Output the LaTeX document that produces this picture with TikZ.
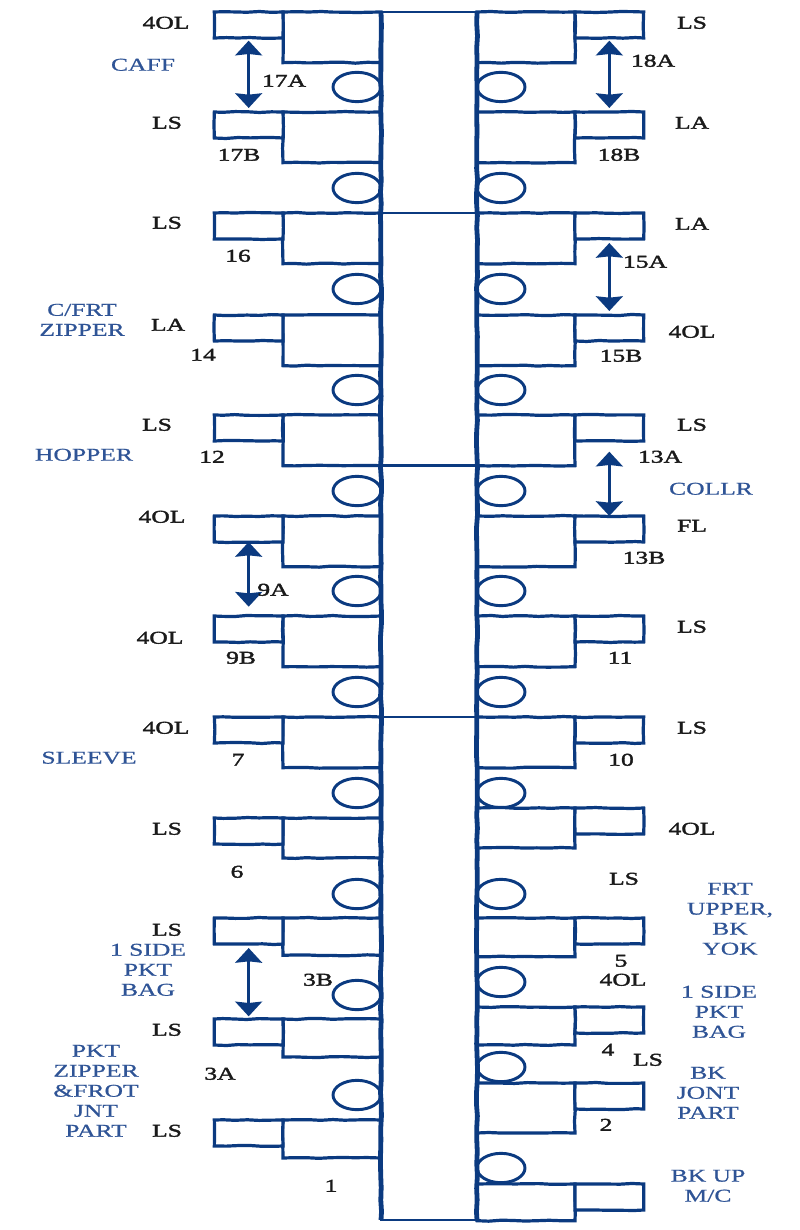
\documentclass[tikz,border=0pt]{standalone}
\usepackage{fontspec}
\setmainfont[FakeStretch=1.42,FakeBold=0.8]{Liberation Serif}
\newfontfamily\machinefont[FakeStretch=1.42,FakeBold=2]{Liberation Serif}
\usepackage{xcolor}
\usetikzlibrary{arrows.meta,shapes.geometric,decorations.pathmorphing}
\definecolor{seam}{HTML}{0B3A80}
\definecolor{opname}{HTML}{2F5496}
\definecolor{mcname}{HTML}{1A1A1A}
\tikzset{
  rough/.style={
    decorate, decoration={random steps, segment length=9pt, amplitude=0.4pt}
  },
  bigbox/.style={
    rectangle, draw=seam, line width=2.4pt, rough, fill=white,
    minimum width=73.5pt, minimum height=#1,
    inner sep=0pt, outer sep=0pt, anchor=north west
  },
  bigbox/.default=38pt,
  tabbox/.style={
    rectangle, draw=seam, line width=2.4pt, rough, fill=white,
    minimum width=51.5pt, minimum height=19.5pt,
    inner sep=0pt, outer sep=0pt
  },
  spinebox/.style={
    rectangle, draw=seam, line width=1.9pt,
    minimum width=72pt, minimum height=906pt,
    inner sep=0pt, outer sep=0pt, anchor=north west
  },
  spineline/.style={draw=seam, line width=3.6pt, rough},
  holeleft/.style={
    ellipse, draw=seam, line width=2.2pt, fill=white,
    minimum width=36pt, minimum height=22pt,
    inner sep=0pt, outer sep=0pt, anchor=east
  },
  holeright/.style={holeleft, anchor=west},
  divider/.style={draw=seam, line width=1.9pt},
  dataarrow/.style={
    {Stealth[length=11pt,width=20pt,inset=1pt]}-{Stealth[length=11pt,width=20pt,inset=1pt]},
    line width=2.5pt, color=seam
  },
  machine/.style={
    font=\fontsize{13.5}{15}\machinefont, color=mcname, inner sep=0pt, yshift=-0.6pt
  },
  operation/.style={
    font=\fontsize{13.5}{15}\selectfont, color=opname, align=center, inner sep=0pt, yshift=-0.6pt
  },
}
\begin{document}
\begin{tikzpicture}[x=0.75pt,y=-0.75pt]
  \useasboundingbox (0,0) rectangle (799,1230);
  % holes, left side
  \node[holeleft] at (381,87) (hl1) {};
  \node[holeleft] at (381,188) (hl2) {};
  \node[holeleft] at (381,289) (hl3) {};
  \node[holeleft] at (381,390) (hl4) {};
  \node[holeleft] at (381,491) (hl5) {};
  \node[holeleft] at (381,591) (hl6) {};
  \node[holeleft] at (381,692) (hl7) {};
  \node[holeleft] at (381,793) (hl8) {};
  \node[holeleft] at (381,894) (hl9) {};
  \node[holeleft] at (381,995) (hl10) {};
  \node[holeleft] at (381,1095) (hl11) {};
  % holes, right side
  \node[holeright] at (477,87) (hr1) {};
  \node[holeright] at (477,188) (hr2) {};
  \node[holeright] at (477,289) (hr3) {};
  \node[holeright] at (477,390) (hr4) {};
  \node[holeright] at (477,491) (hr5) {};
  \node[holeright] at (477,591) (hr6) {};
  \node[holeright] at (477,692) (hr7) {};
  \node[holeright] at (477,793) (hr8) {};
  \node[holeright] at (477,894) (hr9) {};
  \node[holeright] at (477,982) (hr10) {};
  \node[holeright] at (477,1067) (hr11) {};
  \node[holeright] at (477,1168) (hr12) {};
  % left stations
  \node[bigbox] at (283,12) (lb17a) {};
  \node[tabbox, anchor=north east] at (lb17a.north west) (lt17a) {};
  \node[bigbox] at (283,112) (lb17b) {};
  \node[tabbox, anchor=north east] at (lb17b.north west) (lt17b) {};
  \node[bigbox] at (283,213) (lb16) {};
  \node[tabbox, anchor=north east] at (lb16.north west) (lt16) {};
  \node[bigbox] at (283,315) (lb14) {};
  \node[tabbox, anchor=north east] at (lb14.north west) (lt14) {};
  \node[bigbox] at (283,415) (lb12) {};
  \node[tabbox, anchor=north east] at (lb12.north west) (lt12) {};
  \node[bigbox] at (283,516) (lb9a) {};
  \node[tabbox, anchor=north east] at (lb9a.north west) (lt9a) {};
  \node[bigbox] at (283,616) (lb9b) {};
  \node[tabbox, anchor=north east] at (lb9b.north west) (lt9b) {};
  \node[bigbox] at (283,717) (lb7) {};
  \node[tabbox, anchor=north east] at (lb7.north west) (lt7) {};
  \node[bigbox=30pt] at (283,818) (lb6) {};
  \node[tabbox, anchor=north east] at (lb6.north west) (lt6) {};
  \node[bigbox=28pt] at (283,918) (lb3b) {};
  \node[tabbox, anchor=north east] at (lb3b.north west) (lt3b) {};
  \node[bigbox=28.5pt] at (283,1019) (lb3a) {};
  \node[tabbox, anchor=north east] at (lb3a.north west) (lt3a) {};
  \node[bigbox=28.5pt] at (283,1120) (lb1) {};
  \node[tabbox, anchor=north east] at (lb1.north west) (lt1) {};
  % right stations
  \node[bigbox] at (477,12) (rb18a) {};
  \node[tabbox, anchor=north west] at (rb18a.north east) (rt18a) {};
  \node[bigbox] at (477,112) (rb18b) {};
  \node[tabbox, anchor=north west] at (rb18b.north east) (rt18b) {};
  \node[bigbox] at (477,213) (rb15a) {};
  \node[tabbox, anchor=north west] at (rb15a.north east) (rt15a) {};
  \node[bigbox] at (477,315) (rb15b) {};
  \node[tabbox, anchor=north west] at (rb15b.north east) (rt15b) {};
  \node[bigbox] at (477,415) (rb13a) {};
  \node[tabbox, anchor=north west] at (rb13a.north east) (rt13a) {};
  \node[bigbox] at (477,516) (rb13b) {};
  \node[tabbox, anchor=north west] at (rb13b.north east) (rt13b) {};
  \node[bigbox] at (477,616) (rb11) {};
  \node[tabbox, anchor=north west] at (rb11.north east) (rt11) {};
  \node[bigbox] at (477,717) (rb10) {};
  \node[tabbox, anchor=north west] at (rb10.north east) (rt10) {};
  \node[bigbox=30pt] at (477,808) (rb8) {};
  \node[tabbox, anchor=north west] at (rb8.north east) (rt8) {};
  \node[bigbox=29pt] at (477,918) (rb5) {};
  \node[tabbox, anchor=north west] at (rb5.north east) (rt5) {};
  \node[bigbox=28.5pt] at (477,1007) (rb4) {};
  \node[tabbox, anchor=north west] at (rb4.north east) (rt4) {};
  \node[bigbox=37.5pt] at (477,1083) (rb2) {};
  \node[tabbox, anchor=north west] at (rb2.north east) (rt2) {};
  \node[bigbox=27.5pt] at (477,1184) (rb0) {};
  \node[tabbox, anchor=north west] at (rb0.north east) (rt0) {};
  % centre column
  \node[spinebox] at (381,12) (spine) {};
  \draw[spineline] (spine.north west) -- (spine.south west);
  \draw[spineline] (spine.north east) -- (spine.south east);
  \draw[divider] (lb16.north east) -- (rb15a.north west);
  \draw[divider] (lb12.south east) -- (rb13a.south west);
  \draw[divider] (lb7.north east) -- (rb10.north west);
  % arrows
  \draw[dataarrow, shorten <=2pt, shorten >=3pt] (lt17a.south) -- (lt17b.north);
  \draw[dataarrow, shorten <=2pt, shorten >=3pt] (rt18a.south) -- (rt18b.north);
  \draw[dataarrow, shorten <=3pt, shorten >=3pt] (rt15a.south) -- (rt15b.north);
  \draw[dataarrow, shorten <=8pt] (rt13a.south) -- (rt13b.north);
  \draw[dataarrow, shorten >=7pt] (lt9a.south) -- (lt9b.north);
  \draw[dataarrow, shorten <=3pt, shorten >=2pt] (lt3b.south) -- (lt3a.north);
  % machine names and operation numbers, left
  \node[machine] at (166,22) (m1) {4OL};
  \node[machine] at (167,122) (m2) {LS};
  \node[machine] at (167,222) (m3) {LS};
  \node[machine] at (168,324) (m4) {LA};
  \node[machine] at (157,424) (m5) {LS};
  \node[machine] at (162,516) (m6) {4OL};
  \node[machine] at (160,637) (m7) {4OL};
  \node[machine] at (166,727) (m8) {4OL};
  \node[machine] at (167,828) (m9) {LS};
  \node[machine] at (167,929) (m10) {LS};
  \node[machine] at (167,1029) (m11) {LS};
  \node[machine] at (167,1130) (m12) {LS};
  \node[machine] at (284,80) (n17a) {17A};
  \node[machine] at (239,154) (n17b) {17B};
  \node[machine] at (238,255) (n16) {16};
  \node[machine] at (203,354) (n14) {14};
  \node[machine] at (212,456) (n12) {12};
  \node[machine] at (273,589) (n9a) {9A};
  \node[machine] at (241,657) (n9b) {9B};
  \node[machine] at (238,759) (n7) {7};
  \node[machine] at (237,871) (n6) {6};
  \node[machine] at (318,979) (n3b) {3B};
  \node[machine] at (220,1073) (n3a) {3A};
  \node[machine] at (331,1185) (n1) {1};
  % machine names and operation numbers, right
  \node[machine] at (692,22) (m13) {LS};
  \node[machine] at (692,122) (m14) {LA};
  \node[machine] at (692,223) (m15) {LA};
  \node[machine] at (692,331) (m16) {4OL};
  \node[machine] at (692,424) (m17) {LS};
  \node[machine] at (692,525) (m18) {FL};
  \node[machine] at (692,626) (m19) {LS};
  \node[machine] at (692,727) (m20) {LS};
  \node[machine] at (692,828) (m21) {4OL};
  \node[machine] at (624,878) (m22) {LS};
  \node[machine] at (623,979) (m23) {4OL};
  \node[machine] at (648,1059) (m24) {LS};
  \node[machine] at (653,60) (n18a) {18A};
  \node[machine] at (619,154) (n18b) {18B};
  \node[machine] at (645,261) (n15a) {15A};
  \node[machine] at (621,355) (n15b) {15B};
  \node[machine] at (660,456) (n13a) {13A};
  \node[machine] at (644,557) (n13b) {13B};
  \node[machine] at (620,657) (n11) {11};
  \node[machine] at (621,759) (n10) {10};
  \node[machine] at (621,960) (n5) {5};
  \node[machine] at (608,1049) (n4) {4};
  \node[machine] at (606,1124) (n2) {2};
  % operations
  \node[operation] at (143,64) (caff) {CAFF};
  \node[operation] at (82,319) (cfrt) {C/FRT\\ZIPPER};
  \node[operation] at (84,454) (hopper) {HOPPER};
  \node[operation] at (89,757) (sleeve) {SLEEVE};
  \node[operation] at (148,969) (sidel) {1 SIDE\\PKT\\BAG};
  \node[operation] at (96,1090) (pktz) {PKT\\ZIPPER\\\&FROT\\JNT\\PART};
  \node[operation] at (711,488) (collr) {COLLR};
  \node[operation] at (730,918) (frtup) {FRT\\UPPER,\\BK\\YOK};
  \node[operation] at (719,1011) (sider) {1 SIDE\\PKT\\BAG};
  \node[operation] at (708,1092) (bkjont) {BK\\JONT\\PART};
  \node[operation] at (708,1185) (bkup) {BK UP\\M/C};
\end{tikzpicture}
\end{document}
